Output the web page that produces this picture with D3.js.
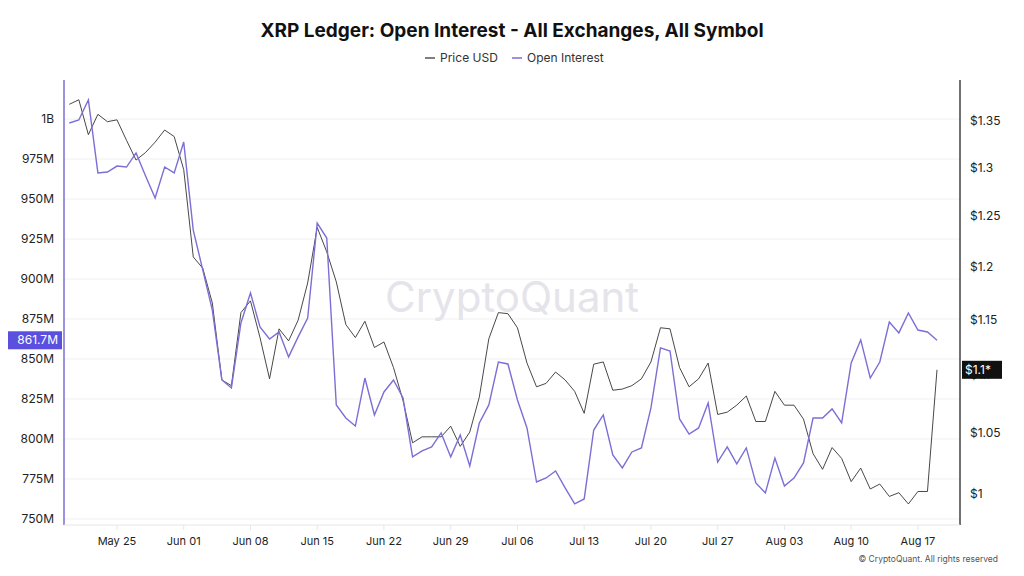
<!DOCTYPE html>
<html><head><meta charset="utf-8">
<script src="https://cdn.jsdelivr.net/npm/d3@7"></script>
<style>body{margin:0;background:#fff;font-family:Inter,"Noto Sans",sans-serif}</style>
</head><body><svg id="c" width="1024" height="576"></svg>
<script>
const startDate = "2025-05-20";
const xTickLabels = ["May 25","Jun 01","Jun 08","Jun 15","Jun 22","Jun 29","Jul 06","Jul 13","Jul 20","Jul 27","Aug 03","Aug 10","Aug 17"];
const oiTicks = [750,775,800,825,850,875,900,925,950,975,1000];
const priceTicks = [1,1.05,1.1,1.15,1.2,1.25,1.3,1.35];
const openInterest = [997.5,999.4,1011.9,966.3,966.9,970.6,970,978.8,964.4,950.6,970,966.3,985.6,930.6,905.6,880.6,836.9,831.9,872.5,891.3,870,862.5,866.9,851.3,863.8,875.6,935,925.6,821.3,813.1,808.1,838.1,815,829.4,836.9,825.6,788.8,792.5,795,803.8,788.8,802.5,783.1,810,821.3,848.1,846.9,824.4,806.9,773.1,775.6,780,769.4,759.4,762.5,805.6,815,790,781.9,791.9,794.4,819.4,856.9,855,812.5,803.1,806.9,822.5,785.6,795,784.4,794.4,772.5,766.3,788.1,770.6,775.6,785,813.1,813.1,818.8,810,847.5,861.9,838.1,848.1,873.1,866.3,878.8,868.1,866.9,861.7];
const priceUSD = [1.368,1.373,1.335,1.357,1.349,1.351,1.329,1.308,1.316,1.327,1.340,1.333,1.298,1.210,1.199,1.166,1.096,1.091,1.157,1.168,1.134,1.097,1.142,1.131,1.150,1.185,1.239,1.215,1.186,1.146,1.134,1.149,1.125,1.130,1.107,1.078,1.042,1.047,1.047,1.047,1.056,1.039,1.051,1.081,1.133,1.157,1.156,1.143,1.111,1.090,1.093,1.103,1.096,1.086,1.067,1.110,1.112,1.087,1.088,1.091,1.097,1.112,1.143,1.142,1.107,1.090,1.097,1.111,1.066,1.068,1.074,1.082,1.060,1.060,1.086,1.074,1.074,1.062,1.033,1.020,1.038,1.029,1.010,1.021,1.004,1.008,0.998,1.001,0.992,1.002,1.002,1.105];

const svg = d3.select("#c");
const purple = "#7b6fd6";
const t0 = new Date(startDate+"T00:00:00Z");
const dates = openInterest.map((_,i)=>new Date(t0.getTime()+i*864e5));
const L=64,R=960,T=80,B=522;
const x = d3.scaleUtc().domain([dates[0], dates[dates.length-1]]).range([69.3, 937]);
const yL = d3.scaleLinear().domain([748.1,1024.4]).range([B,T]);
const yR = d3.scaleLog().domain([0.9777,1.395]).range([B,T]);

svg.append("text").attr("x",512).attr("y",37).attr("text-anchor","middle").attr("font-size",19).attr("font-weight",700).attr("fill","#111").text("XRP Ledger: Open Interest - All Exchanges, All Symbol");
const lg = svg.append("g").attr("font-size",12).attr("fill","#333");
lg.append("line").attr("x1",425).attr("x2",435).attr("y1",58).attr("y2",58).attr("stroke","#555").attr("stroke-width",1.5);
lg.append("text").attr("x",440).attr("y",62).text("Price USD");
lg.append("line").attr("x1",512).attr("x2",522).attr("y1",58).attr("y2",58).attr("stroke",purple).attr("stroke-width",1.5);
lg.append("text").attr("x",527).attr("y",62).text("Open Interest");

svg.append("g").selectAll("line").data(oiTicks).join("line").attr("x1",L).attr("x2",R).attr("y1",d=>yL(d)).attr("y2",d=>yL(d)).attr("stroke","#f0f0f0");
svg.append("text").attr("x",512).attr("y",312).attr("text-anchor","middle").attr("font-size",42).attr("fill","#e4e4ea").text("CryptoQuant");

const ax = svg.append("g").attr("font-size",12).attr("fill","#222");
ax.selectAll(".l").data(oiTicks).join("text").attr("x",54).attr("y",d=>yL(d)+4).attr("text-anchor","end").text(d=>d===1000?"1B":d+"M");
svg.append("line").attr("x1",L).attr("x2",L).attr("y1",T).attr("y2",B+3).attr("stroke",purple).attr("stroke-width",1.5);
ax.selectAll(".r").data(priceTicks).join("text").attr("x",970).attr("y",d=>yR(d)+4).text(d=>"$"+d3.format("~g")(d));
svg.append("line").attr("x1",R).attr("x2",R).attr("y1",T).attr("y2",B+3).attr("stroke","#111").attr("stroke-width",1.2);
svg.append("line").attr("x1",L).attr("x2",R).attr("y1",B+3).attr("y2",B+3).attr("stroke","#e6e6e6");
const tickDates = xTickLabels.map((_,i)=>new Date(t0.getTime()+(5+7*i)*864e5));
svg.append("g").selectAll("line").data(tickDates).join("line").attr("x1",d=>x(d)).attr("x2",d=>x(d)).attr("y1",B+3).attr("y2",B+8).attr("stroke","#e6e6e6");
ax.selectAll(".x").data(tickDates).join("text").attr("x",d=>x(d)).attr("y",545).attr("text-anchor","middle").attr("font-size",11).text((d,i)=>xTickLabels[i]);

svg.append("path").datum(priceUSD).attr("fill","none").attr("stroke","#333").attr("stroke-width",0.9)
 .attr("d",d3.line().x((d,i)=>x(dates[i])).y(d=>yR(d)));
svg.append("path").datum(openInterest).attr("fill","none").attr("stroke",purple).attr("stroke-width",1.4)
 .attr("d",d3.line().x((d,i)=>x(dates[i])).y(d=>yL(d)));

const lastOI = openInterest[openInterest.length-1], lastP = priceUSD[priceUSD.length-1];
svg.append("rect").attr("x",8).attr("y",yL(lastOI)-9).attr("width",54).attr("height",18).attr("fill","#5b4fe0");
svg.append("text").attr("x",58).attr("y",yL(lastOI)+4).attr("text-anchor","end").attr("font-size",12).attr("fill","#fff").text(lastOI+"M");
svg.append("rect").attr("x",962).attr("y",yR(lastP)-9).attr("width",40).attr("height",18).attr("fill","#111");
svg.append("text").attr("x",965).attr("y",yR(lastP)+4).attr("font-size",12).attr("fill","#fff").text("$1.1*");

svg.append("text").attr("x",998).attr("y",562).attr("text-anchor","end").attr("font-size",8.5).attr("fill","#555").text("© CryptoQuant. All rights reserved");
</script></body></html>
